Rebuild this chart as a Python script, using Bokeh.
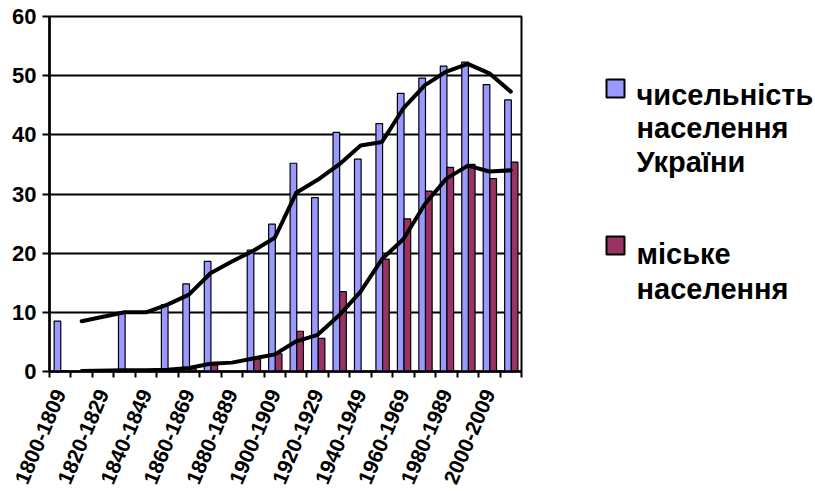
from bokeh.plotting import figure
from bokeh.layouts import row
from bokeh.models import (ColumnDataSource, Range1d, FixedTicker, CustomJSTickFormatter)
from bokeh.core.properties import value
from bokeh.embed import file_html
from bokeh.resources import INLINE
import math

categories = ["1800-1809", "1810-1819", "1820-1829", "1830-1839", "1840-1849",
              "1850-1859", "1860-1869", "1870-1879", "1880-1889", "1890-1899",
              "1900-1909", "1910-1919", "1920-1929", "1930-1939", "1940-1949",
              "1950-1959", "1960-1969", "1970-1979", "1980-1989", "1990-1999",
              "2000-2009", "2010-2019"]
total_pop = [8.5, None, None, 10.0, None, 11.3, 14.8, 18.6, None, 20.5, 24.9,
             35.2, 29.4, 40.4, 35.9, 41.9, 47.0, 49.6, 51.6, 52.3, 48.5, 45.9]
urban_pop = [0.1, None, None, 0.2, None, 0.3, 0.5, 1.1, None, 2.1, 3.0,
             6.8, 5.6, 13.5, None, 19.0, 25.8, 30.5, 34.5, 35.0, 32.6, 35.4]
total_trend = [None, 8.5, None, 10.0, 10.0, 11.3, 13.0, 16.6, 18.6, 20.4, 22.6,
               30.2, 32.4, 35.0, 38.2, 38.8, 44.5, 48.4, 50.7, 52.0, 50.4, 47.3]
urban_trend = [None, 0.1, None, 0.2, 0.2, 0.3, 0.6, 1.3, 1.5, 2.2, 2.9,
               5.1, 6.2, 9.5, 13.5, 19.0, 22.4, 28.3, 32.6, 34.8, 33.8, 34.0]
legend_total = ["чисельність", "населення", "України"]
legend_urban = ["міське", "населення"]
y_ticks = [0, 10, 20, 30, 40, 50, 60]

BLUE = "#9999FF"
MAROON = "#993366"
FONT = "Liberation Sans"

H = 491
TOP, BOTTOM = 16, 120
P_W, L_W = 568, 245


def series_source(vals, offset):
    xs, ys = [], []
    for i, v in enumerate(vals):
        if v is not None:
            xs.append(i + offset)
            ys.append(v)
    return ColumnDataSource(dict(x=xs, y=ys))


n = len(categories)
p = figure(width=P_W, height=H, output_backend="svg", toolbar_location=None,
           x_range=Range1d(0, n), y_range=Range1d(0, 60),
           min_border_left=49, min_border_right=47, min_border_top=TOP,
           min_border_bottom=BOTTOM)
p.background_fill_color = "white"
p.border_fill_color = "white"
p.outline_line_color = "black"
p.outline_line_width = 2

# bars
p.vbar(x="x", top="y", width=0.31, source=series_source(total_pop, 0.37),
       fill_color=BLUE, line_color="black", line_width=1.2)
p.vbar(x="x", top="y", width=0.31, source=series_source(urban_pop, 0.68),
       fill_color=MAROON, line_color="black", line_width=1.2)

# trend lines
p.line(x="x", y="y", source=series_source(total_trend, 0.5), line_color="black",
       line_width=4, line_join="round", line_cap="round")
p.line(x="x", y="y", source=series_source(urban_trend, 0.5), line_color="black",
       line_width=4, line_join="round", line_cap="round")

# grid
p.xgrid.visible = False
p.ygrid.grid_line_color = "black"
p.ygrid.grid_line_width = 2
p.ygrid.ticker = FixedTicker(ticks=y_ticks)

# y axis
p.yaxis.ticker = FixedTicker(ticks=y_ticks)
p.yaxis.axis_line_width = 2.5
p.yaxis.axis_line_color = "black"
p.yaxis.major_tick_line_color = "black"
p.yaxis.major_tick_line_width = 2
p.yaxis.major_tick_out = 7
p.yaxis.major_tick_in = 0
p.yaxis.minor_tick_line_color = None
p.yaxis.major_label_standoff = 6
p.yaxis.major_label_text_font = FONT
p.yaxis.major_label_text_font_style = "bold"
p.yaxis.major_label_text_font_size = "22px"
p.yaxis.major_label_text_color = "black"

# x axis
p.xaxis.ticker = FixedTicker(ticks=[i + 0.5 for i in range(0, n, 2)],
                             minor_ticks=list(range(0, n + 1)))
p.xaxis.formatter = CustomJSTickFormatter(args=dict(labels=categories),
                                          code="return labels[Math.floor(tick)];")
p.xaxis.axis_line_width = 2.5
p.xaxis.axis_line_color = "black"
p.xaxis.major_tick_line_color = None
p.xaxis.minor_tick_line_color = "black"
p.xaxis.minor_tick_line_width = 2
p.xaxis.minor_tick_out = 6
p.xaxis.minor_tick_in = 0
p.xaxis.major_label_orientation = math.radians(67)
p.xaxis.major_label_standoff = 13
p.xaxis.major_label_text_font = FONT
p.xaxis.major_label_text_font_style = "bold"
p.xaxis.major_label_text_font_size = "21px"
p.xaxis.major_label_text_color = "black"

# legend as a separate panel whose data coordinates equal page pixels
lg = figure(width=L_W, height=H, output_backend="svg", toolbar_location=None,
            x_range=Range1d(P_W, P_W + L_W), y_range=Range1d(H - BOTTOM, TOP),
            min_border_left=0, min_border_right=0,
            min_border_top=TOP, min_border_bottom=BOTTOM)
lg.axis.visible = False
lg.grid.visible = False
lg.outline_line_color = None
lg.background_fill_color = "white"
lg.border_fill_color = "white"

lg.rect(x=[615, 615], y=[88, 245], width=18, height=18,
        fill_color=[BLUE, MAROON], line_color="black", line_width=2)
tx = [636] * (len(legend_total) + len(legend_urban))
ty = [94, 127, 161, 253, 288]
lg.text(x=tx, y=ty, text=legend_total + legend_urban,
        text_font=value(FONT), text_font_style="bold", text_font_size="29px",
        text_color="black", text_baseline="alphabetic", text_align="left")

layout = row(p, lg)
open("out.html", "w").write(file_html(layout, INLINE))
